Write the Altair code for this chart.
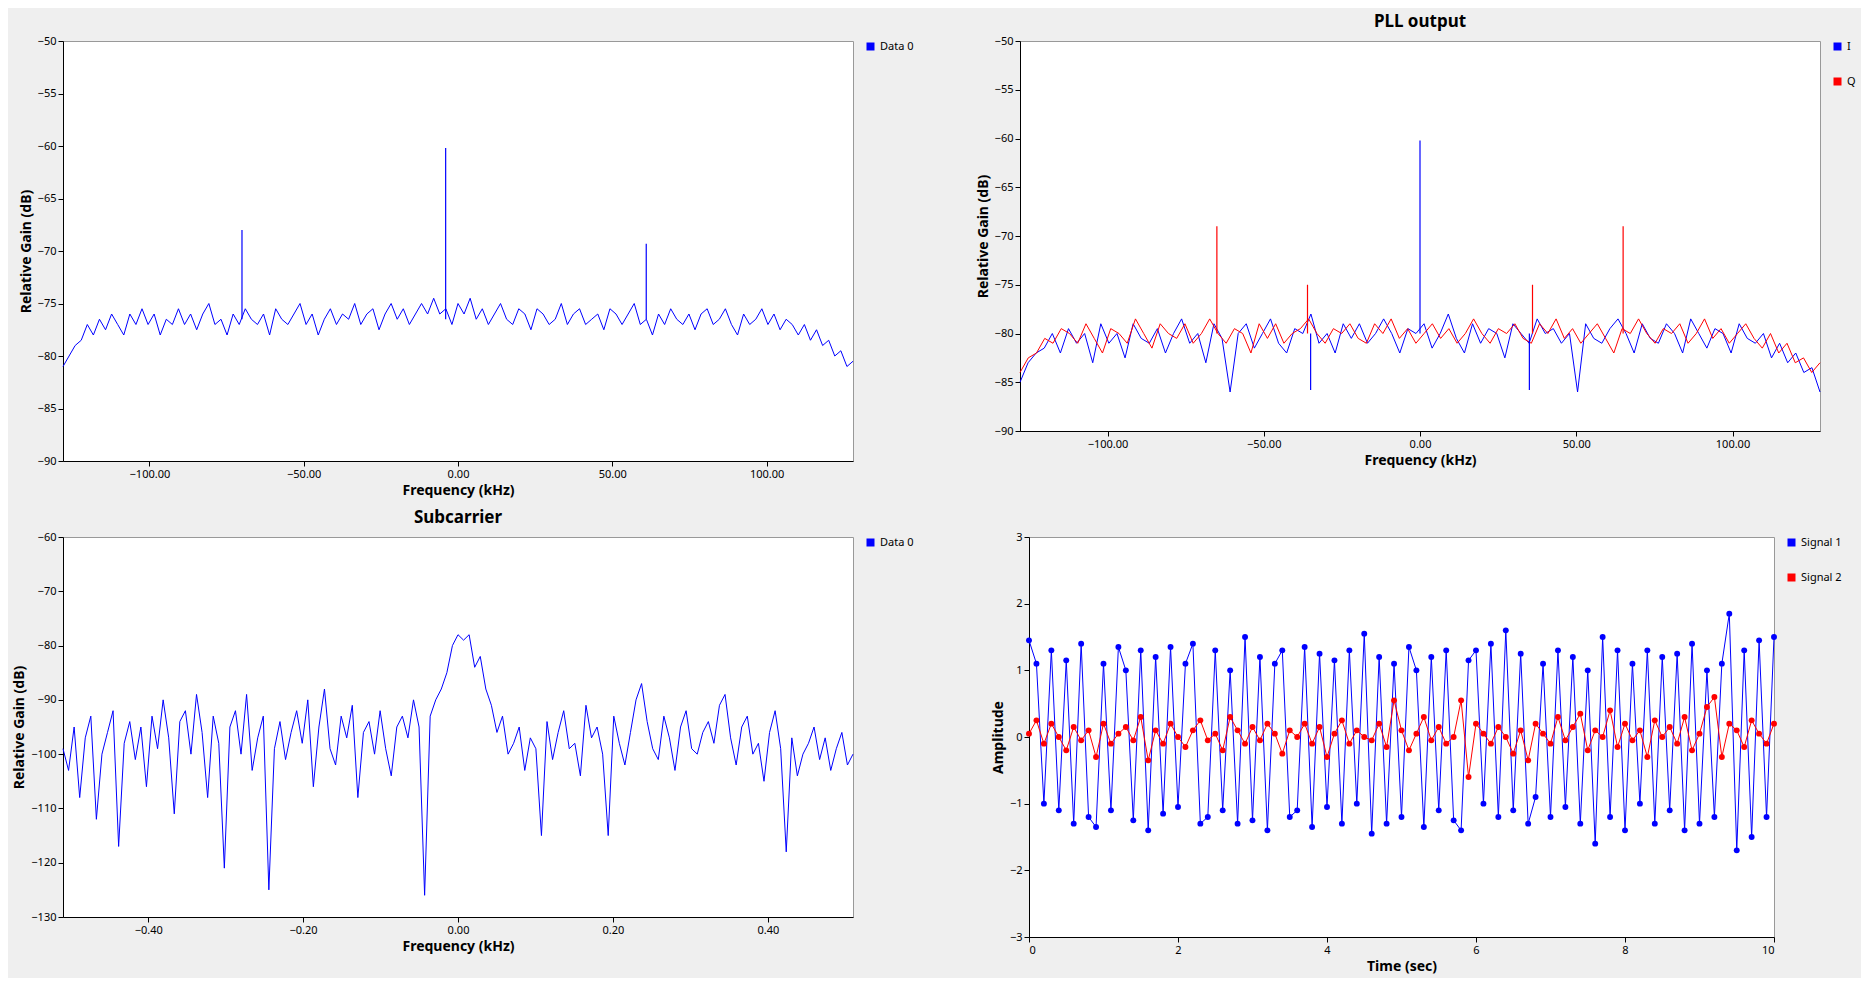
import numpy as np
import pandas as pd
import altair as alt

BLUE = "#0000ff"
RED = "#ff0000"

# top-left spectrum (dB), read across -128..128 kHz
TL_GAIN = [-81, -80, -79, -78.5, -77, -78, -76.5, -77.5, -76, -77, -78, -76, -77, -75.5, -77, -76, -78, -76.5,
           -77, -75.5, -77, -76, -77.5, -76, -75, -77, -76.5, -78, -76, -77, -75.5, -76.5, -77, -76, -78, -75.5,
           -76.5, -77, -76, -75, -77, -76, -78, -76.5, -75.5, -77, -76, -76.5, -75, -77, -76, -75.5, -77.5, -76,
           -75, -76.5, -75.5, -77, -76, -75, -76, -74.5, -76, -75.5, -77, -75, -76, -74.5, -76.5, -75.5, -77, -76,
           -75, -76.5, -77, -75.5, -76, -77.5, -75.5, -76, -77, -76.5, -75, -77, -76, -75.5, -77, -76.5, -76,
           -77.5, -75.5, -76, -77, -76, -75, -77, -76.5, -78, -76, -77, -75.5, -76.5, -77, -76, -77.5, -76, -75.5,
           -77, -76.5, -75.5, -77, -78, -76, -77, -76.5, -75.5, -77, -76, -77.5, -76.5, -77, -78, -77, -78.5,
           -77.5, -79, -78.5, -80, -79.5, -81, -80.5]
TL_SPIKE_F = [-70, -4, 61]
TL_SPIKE_G = [-68, -60.2, -69.3]
TL_SPIKE_BASE = -76.5

# PLL output I / Q (dB)
TR_I = [-85, -83, -82, -81.5, -80, -82, -79.5, -81, -80, -83, -79, -81, -80, -82.5, -79, -80.5, -81, -79.5,
        -82, -80, -78.5, -81, -80, -83, -79, -80.5, -86, -80, -79, -81.5, -80, -78.5, -81, -82, -79.5, -80,
        -78, -81, -80, -82, -79, -80.5, -79, -81, -80, -78.5, -80, -82, -79.5, -80, -79, -81.5, -80, -78,
        -80.5, -82, -79, -81, -79.5, -80, -82.5, -79, -80, -81, -78.5, -80, -79.5, -81, -80, -86, -79, -80.5,
        -81, -79.5, -78.5, -80, -82, -79, -80.5, -81, -79, -80, -82, -78.5, -80, -81.5, -79.5, -80, -82, -79,
        -80.5, -81, -80, -82.5, -81, -83, -82, -84, -83.5, -86]
TR_Q = [-84, -82.5, -82, -80.5, -81, -79.5, -80, -81, -79, -80.5, -82, -79.5, -80, -81, -78.5, -80, -81.5,
        -79, -80, -80.5, -79, -81, -80, -78.5, -80, -81, -79.5, -80, -82, -79, -80.5, -79, -81, -80, -79.5,
        -78.5, -80, -81, -79.5, -80, -79, -80.5, -81, -79, -80, -78.5, -80.5, -79.5, -81, -80, -79, -80.5,
        -79.5, -81, -80, -78.5, -80, -81, -79.5, -80, -79, -80.5, -81, -79, -80, -78.5, -80.5, -79.5, -81,
        -80, -79, -80.5, -82, -79.5, -80, -78.5, -80, -81, -79.5, -80, -79, -81, -80, -78.5, -80.5, -79.5,
        -81, -80, -79, -80.5, -81.5, -80, -82, -81, -83, -82.5, -84, -83]
TR_I_SPIKE_F = [0, -35, 35]
TR_I_SPIKE_G = [-60.2, -85.8, -85.8]
TR_Q_SPIKE_F = [-65, -36, 36, 65]
TR_Q_SPIKE_G = [-69, -75, -75, -69]
TR_BASE = -80

# subcarrier spectrum (dB), -0.51..0.51 kHz
BL_GAIN = [-99, -103, -95, -108, -97, -93, -112, -100, -96, -92, -117, -98, -94, -101, -95, -106, -93, -99,
           -90, -97, -111, -94, -92, -100, -89, -96, -108, -93, -98, -121, -95, -92, -100, -89, -103, -97, -93,
           -125, -99, -94, -101, -96, -92, -98, -90, -106, -95, -88, -99, -102, -93, -97, -91, -108, -96, -94,
           -100, -92, -99, -104, -95, -93, -97, -90, -95, -126, -93, -90, -88, -85, -80, -78, -79, -78, -84,
           -82, -88, -91, -96, -93, -100, -98, -95, -103, -97, -99, -115, -94, -101, -96, -92, -99, -98, -104,
           -91, -97, -95, -100, -115, -93, -98, -102, -96, -90, -87, -94, -99, -101, -93, -97, -103, -95, -92,
           -99, -100, -96, -94, -98, -91, -89, -97, -102, -95, -93, -100, -98, -105, -96, -92, -99, -118, -97,
           -104, -100, -98, -95, -101, -97, -103, -99, -96, -102, -100]

# time signals
S1 = [1.45, 1.1, -1.0, 1.3, -1.1, 1.15, -1.3, 1.4, -1.2, -1.35, 1.1, -1.1, 1.35, 1.0, -1.25, 1.3, -1.4, 1.2,
      -1.15, 1.35, -1.05, 1.1, 1.4, -1.3, -1.2, 1.3, -1.1, 1.0, -1.3, 1.5, -1.25, 1.2, -1.4, 1.1, 1.3, -1.2,
      -1.1, 1.35, -1.35, 1.25, -1.05, 1.15, -1.3, 1.3, -1.0, 1.55, -1.45, 1.2, -1.3, 1.1, -1.2, 1.35, 1.0,
      -1.35, 1.2, -1.1, 1.3, -1.25, -1.4, 1.15, 1.3, -1.0, 1.4, -1.2, 1.6, -1.1, 1.25, -1.3, -0.9, 1.1,
      -1.2, 1.3, -1.05, 1.2, -1.3, 1.0, -1.6, 1.5, -1.2, 1.3, -1.4, 1.1, -1.0, 1.3, -1.3, 1.2, -1.1, 1.25,
      -1.4, 1.4, -1.3, 1.0, -1.2, 1.1, 1.85, -1.7, 1.3, -1.5, 1.45, -1.2, 1.5]
S2 = [0.05, 0.25, -0.1, 0.2, 0.0, -0.2, 0.15, -0.05, 0.1, -0.3, 0.2, -0.1, 0.05, 0.15, -0.05, 0.3, -0.35,
      0.1, -0.1, 0.2, 0.0, -0.15, 0.1, 0.25, -0.05, 0.05, -0.2, 0.3, 0.1, -0.1, 0.15, -0.05, 0.2, 0.05,
      -0.25, 0.1, 0.0, 0.2, -0.1, 0.15, -0.3, 0.05, 0.25, -0.1, 0.1, 0.0, -0.05, 0.2, -0.15, 0.55, 0.1,
      -0.2, 0.05, 0.3, -0.05, 0.15, -0.1, 0.0, 0.55, -0.6, 0.2, 0.05, -0.1, 0.15, 0.0, -0.25, 0.1, -0.35,
      0.2, 0.05, -0.1, 0.3, -0.05, 0.15, 0.35, -0.2, 0.1, 0.0, 0.4, -0.15, 0.2, -0.05, 0.1, -0.3, 0.25,
      0.0, 0.15, -0.1, 0.3, -0.2, 0.05, 0.45, 0.6, -0.3, 0.2, 0.1, -0.15, 0.25, 0.05, -0.1, 0.2]

FONT = "Noto Sans"


def freq_axis(fmt, values):
    return alt.Axis(format=fmt, values=values, grid=False, labelFontSize=11, titleFontSize=14,
                    titleFontWeight="bold", tickColor="black", domainColor="black", labelColor="black")


def gain_axis(values, title="Relative Gain (dB)"):
    return alt.Axis(values=values, grid=False, labelFontSize=11, titleFontSize=14, title=title,
                    titleFontWeight="bold", tickColor="black", domainColor="black", labelColor="black")


def legend():
    return alt.Legend(title=None, orient="right", symbolType="square", symbolSize=16,
                      symbolStrokeWidth=4, symbolOpacity=1, labelFontSize=11, offset=10, rowPadding=14)


def spectrum(freqs, gains, series):
    return pd.DataFrame({"f": freqs, "g": gains, "s": series})


def spikes(freqs, gains, base, series):
    return pd.DataFrame({"f": freqs, "g": gains, "b": base, "s": series})


W, H = 790, 395


def color_enc(domain, rng):
    return alt.Color("s:N", scale=alt.Scale(domain=domain, range=rng), legend=legend())


# top left
tl_df = spectrum(np.linspace(-128, 128, len(TL_GAIN)), TL_GAIN, "Data 0")
tl_x = alt.X("f:Q", title="Frequency (kHz)", scale=alt.Scale(domain=[-128, 128], nice=False),
             axis=freq_axis(".2f", [-100, -50, 0, 50, 100]))
tl_y = alt.Y("g:Q", scale=alt.Scale(domain=[-90, -50]), axis=gain_axis(list(range(-90, -49, 5))))
tl_color = color_enc(["Data 0"], [BLUE])
tl = (alt.Chart(tl_df).mark_line(strokeWidth=1).encode(x=tl_x, y=tl_y, color=tl_color)
      + alt.Chart(spikes(TL_SPIKE_F, TL_SPIKE_G, TL_SPIKE_BASE, "Data 0")).mark_rule(strokeWidth=1.2)
      .encode(x="f:Q", y="g:Q", y2="b:Q", color=tl_color)).properties(width=W, height=H + 25)

# top right
tr_df = pd.concat([spectrum(np.linspace(-128, 128, len(TR_I)), TR_I, "I"),
                   spectrum(np.linspace(-128, 128, len(TR_Q)), TR_Q, "Q")])
tr_sp = pd.concat([spikes(TR_I_SPIKE_F, TR_I_SPIKE_G, TR_BASE, "I"),
                   spikes(TR_Q_SPIKE_F, TR_Q_SPIKE_G, TR_BASE, "Q")])
tr_color = color_enc(["I", "Q"], [BLUE, RED])
tr = (alt.Chart(tr_df).mark_line(strokeWidth=1).encode(x=tl_x, y=tl_y, color=tr_color, detail="s:N")
      + alt.Chart(tr_sp).mark_rule(strokeWidth=1.2).encode(x="f:Q", y="g:Q", y2="b:Q", color=tr_color)
      ).properties(width=W + 10, height=H - 5,
                   title=alt.TitleParams("PLL output", fontSize=17, fontWeight="bold"))

# bottom left
bl_df = spectrum(np.linspace(-0.51, 0.51, len(BL_GAIN)), BL_GAIN, "Data 0")
bl = alt.Chart(bl_df).mark_line(strokeWidth=1).encode(
    x=alt.X("f:Q", title="Frequency (kHz)", scale=alt.Scale(domain=[-0.51, 0.51], nice=False),
            axis=freq_axis(".2f", [-0.4, -0.2, 0, 0.2, 0.4])),
    y=alt.Y("g:Q", scale=alt.Scale(domain=[-130, -60]), axis=gain_axis(list(range(-130, -59, 10)))),
    color=color_enc(["Data 0"], [BLUE]),
).properties(width=W, height=H - 15, title=alt.TitleParams("Subcarrier", fontSize=17, fontWeight="bold"))

# bottom right
br_df = pd.concat([pd.DataFrame({"t": np.linspace(0, 10, len(S1)), "a": S1, "s": "Signal 1"}),
                   pd.DataFrame({"t": np.linspace(0, 10, len(S2)), "a": S2, "s": "Signal 2"})])
br = alt.Chart(br_df).mark_line(strokeWidth=1, point=alt.OverlayMarkDef(size=35, filled=True)).encode(
    x=alt.X("t:Q", title="Time (sec)", scale=alt.Scale(domain=[0, 10], nice=False),
            axis=freq_axis("d", list(range(0, 11, 2)))),
    y=alt.Y("a:Q", scale=alt.Scale(domain=[-3, 3]), axis=gain_axis([-3, -2, -1, 0, 1, 2, 3], "Amplitude")),
    color=color_enc(["Signal 1", "Signal 2"], [BLUE, RED]),
).properties(width=W - 45, height=H + 5)

chart = alt.vconcat(
    alt.hconcat(tl, tr, spacing=60).resolve_scale(color="independent"),
    alt.hconcat(bl, br, spacing=75).resolve_scale(color="independent"),
    spacing=10,
).resolve_scale(color="independent").configure(background="#efefef", font=FONT, padding=4).configure_view(
    fill="white", stroke="#999999")

chart.save("out.html", embed_options={"renderer": "svg", "actions": False})
